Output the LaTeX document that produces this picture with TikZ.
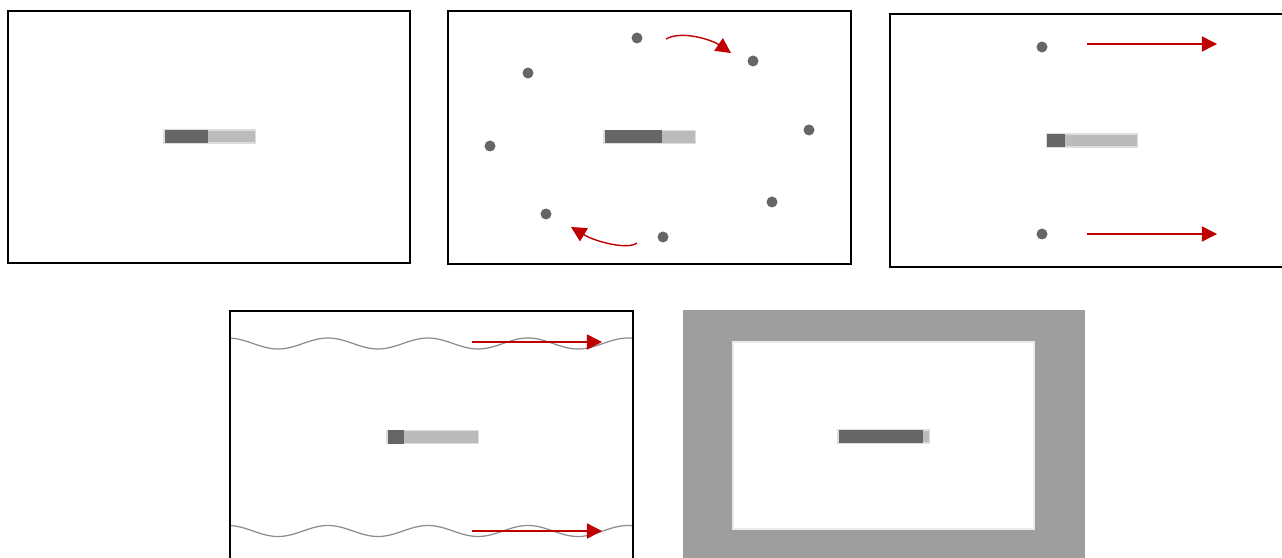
\documentclass[tikz,border=0pt]{standalone}
\usetikzlibrary{arrows.meta}
\definecolor{bardark}{HTML}{666666}
\definecolor{barlight}{HTML}{BBBBBB}
\definecolor{flowred}{HTML}{C00000}
\definecolor{wallgray}{HTML}{9E9E9E}
\begin{document}
\begin{tikzpicture}
[x=0.01cm, y=-0.01cm, line width=0.75pt,
frame/.style={draw=black, line width=0.75pt},
barbg/.style={rectangle, fill=barlight, draw=barlight!50, line width=0.3pt, inner sep=0pt, minimum width=0.91cm, minimum height=0.13cm},
barfg/.style={rectangle, fill=bardark, inner sep=0pt, minimum height=0.13cm, anchor=west},
probe/.style={circle, fill=bardark, inner sep=0pt, minimum size=0.11cm},
flow/.style={-{Triangle[length=4.3pt, width=4.3pt]}, draw=flowred, line width=0.4pt},
wave/.style={draw=gray!90, line width=0.35pt}]

\useasboundingbox (0,0) rectangle (1282,558);
\clip (0,0) rectangle (1282,558);

% panel 1: still
\draw[frame] (8,11) rectangle (410,263);
\node[barbg] (bar1) at (209.5,136.5) {};
\node[barfg, minimum width=0.43cm] (fill1) at (bar1.west) {};

% panel 2: rotating probes
\draw[frame] (448,11) rectangle (851,264);
\node[barbg] (bar2) at (649.5,137) {};
\node[barfg, minimum width=0.57cm] (fill2) at (bar2.west) {};
\foreach \p/\u/\v in {a/637/38, b/753/61, c/809/130, d/772/202, e/663/237, f/546/214, g/490/146, h/528/73} {
  \node[probe] (dot\p) at (\u,\v) {};
}
\coordinate (spinA0) at (666,39);
\coordinate (spinA1) at (731,53);
\coordinate (spinB0) at (637,243);
\coordinate (spinB1) at (571,227);
\draw[flow] (spinA0) .. controls (682,30) and (712,40) .. (spinA1);
\draw[flow] (spinB0) .. controls (628,250) and (596,242) .. (spinB1);

% panel 3: drifting probes
\draw[frame] (890,14) rectangle (1295,267);
\node[barbg] (bar3) at (1092,140.5) {};
\node[barfg, minimum width=0.18cm] (fill3) at (bar3.west) {};
\node[probe] (dotup) at (1042,47) {};
\node[probe] (dotdn) at (1042,234) {};
\coordinate (driftA0) at (1087,44);
\coordinate (driftA1) at (1217,44);
\coordinate (driftB0) at (1087,234);
\coordinate (driftB1) at (1217,234);
\draw[flow] (driftA0) -- (driftA1);
\draw[flow] (driftB0) -- (driftB1);

% panel 4: waves
\draw[frame] (230,311) rectangle (633,575);
\node[barbg] (bar4) at (432.5,437) {};
\node[barfg, minimum width=0.16cm] (fill4) at (bar4.west) {};
\foreach \c in {343.5, 531} {
  \draw[wave] plot[domain=231:632, samples=120] (\x, {\c-5.5*cos(3.6*(\x-228))});
}
\coordinate (waveA0) at (472,342);
\coordinate (waveA1) at (602,342);
\coordinate (waveB0) at (472,531);
\coordinate (waveB1) at (602,531);
\draw[flow] (waveA0) -- (waveA1);
\draw[flow] (waveB0) -- (waveB1);

% panel 5: walls
\fill[wallgray] (683,310) rectangle (1085,575);
\draw[fill=white, draw=gray!15, line width=0.4pt] (733,342) rectangle (1034,529);
\node[barbg] (bar5) at (883.5,436.5) {};
\node[barfg, minimum width=0.84cm] (fill5) at (bar5.west) {};
\end{tikzpicture}
\end{document}
